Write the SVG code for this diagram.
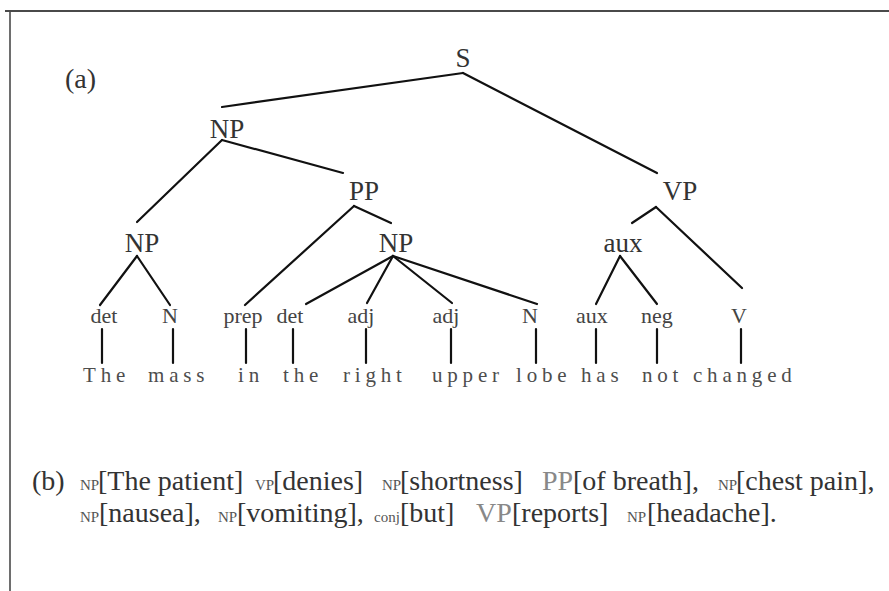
<svg xmlns="http://www.w3.org/2000/svg" width="889" height="591" viewBox="0 0 889 591">
  <style>
    .frame { stroke: #4a4a4a; fill: none; }
    .edge { stroke: #111; stroke-width: 2.2; fill: none; stroke-linecap: round; }
    .phrase { font-family: "Liberation Serif", "Times New Roman", serif; font-size: 27px; fill: #333; text-anchor: middle; }
    .pos { font-family: "Liberation Serif", "Times New Roman", serif; font-size: 22px; fill: #444; text-anchor: middle; }
    .word { font-family: "Liberation Serif", "Times New Roman", serif; font-size: 21px; fill: #4d4d4d; letter-spacing: 4.8px; }
    .caption { font-family: "Liberation Serif", "Times New Roman", serif; font-size: 28px; fill: #333; }
    .tag { font-family: "Liberation Serif", "Times New Roman", serif; font-size: 15px; fill: #555; }
    .tagbig { font-family: "Liberation Serif", "Times New Roman", serif; font-size: 28px; fill: #888; }
  </style>

  <!-- frame -->
  <line class="frame" x1="5" y1="11" x2="889" y2="11" stroke-width="2.2"/>
  <line class="frame" x1="10" y1="11" x2="10" y2="591" stroke-width="1.6" stroke="#666"/>

  <text class="caption" x="65" y="88">(a)</text>

  <!-- connectors -->
  <g id="edges">
    <line class="edge" x1="463" y1="73" x2="222" y2="107"/>
    <line class="edge" x1="463" y1="73" x2="657" y2="173"/>
    <line class="edge" x1="222" y1="140" x2="137" y2="222"/>
    <line class="edge" x1="222" y1="140" x2="343" y2="173"/>
    <line class="edge" x1="354" y1="206" x2="245" y2="305"/>
    <line class="edge" x1="354" y1="206" x2="391" y2="223"/>
    <line class="edge" x1="137" y1="256" x2="100" y2="305"/>
    <line class="edge" x1="137" y1="256" x2="170" y2="305"/>
    <line class="edge" x1="393" y1="256" x2="306" y2="304"/>
    <line class="edge" x1="393" y1="256" x2="367" y2="303"/>
    <line class="edge" x1="393" y1="256" x2="452" y2="303"/>
    <line class="edge" x1="393" y1="256" x2="537" y2="304"/>
    <line class="edge" x1="656" y1="207" x2="632" y2="223"/>
    <line class="edge" x1="656" y1="207" x2="742" y2="288"/>
    <line class="edge" x1="620" y1="256" x2="596" y2="304"/>
    <line class="edge" x1="620" y1="256" x2="657" y2="304"/>
    <!-- part-of-speech to word stems -->
    <line class="edge" x1="102" y1="329" x2="102" y2="363"/>
    <line class="edge" x1="173" y1="329" x2="173" y2="363"/>
    <line class="edge" x1="246" y1="329" x2="246" y2="363"/>
    <line class="edge" x1="293" y1="329" x2="293" y2="363"/>
    <line class="edge" x1="366" y1="329" x2="366" y2="363"/>
    <line class="edge" x1="451" y1="329" x2="451" y2="363"/>
    <line class="edge" x1="536" y1="329" x2="536" y2="363"/>
    <line class="edge" x1="596" y1="329" x2="596" y2="363"/>
    <line class="edge" x1="657" y1="329" x2="657" y2="363"/>
    <line class="edge" x1="741" y1="329" x2="741" y2="363"/>
  </g>

  <!-- phrase nodes -->
  <g id="node-S"><text class="phrase" x="463" y="67">S</text></g>
  <g id="node-NP1"><text class="phrase" x="227" y="138">NP</text></g>
  <g id="node-VP"><text class="phrase" x="680" y="200">VP</text></g>
  <g id="node-PP"><text class="phrase" x="364" y="200">PP</text></g>
  <g id="node-NP2"><text class="phrase" x="142" y="252">NP</text></g>
  <g id="node-NP3"><text class="phrase" x="396" y="252">NP</text></g>
  <g id="node-auxP"><text class="phrase" x="623" y="252">aux</text></g>

  <!-- part-of-speech nodes -->
  <g id="node-det1"><text class="pos" x="104" y="323">det</text></g>
  <g id="node-N1"><text class="pos" x="170" y="323">N</text></g>
  <g id="node-prep"><text class="pos" x="243" y="323">prep</text></g>
  <g id="node-det2"><text class="pos" x="290" y="323">det</text></g>
  <g id="node-adj1"><text class="pos" x="361" y="323">adj</text></g>
  <g id="node-adj2"><text class="pos" x="446" y="323">adj</text></g>
  <g id="node-N2"><text class="pos" x="530" y="323">N</text></g>
  <g id="node-aux"><text class="pos" x="592" y="323">aux</text></g>
  <g id="node-neg"><text class="pos" x="657" y="323">neg</text></g>
  <g id="node-V"><text class="pos" x="739" y="323">V</text></g>

  <!-- words -->
  <g id="words">
    <text class="word" x="83" y="382">The</text>
    <text class="word" x="148" y="382">mass</text>
    <text class="word" x="238" y="382">in</text>
    <text class="word" x="283" y="382">the</text>
    <text class="word" x="343" y="382">right</text>
    <text class="word" x="432" y="382">upper</text>
    <text class="word" x="516" y="382">lobe</text>
    <text class="word" x="581" y="382">has</text>
    <text class="word" x="642" y="382">not</text>
    <text class="word" x="693" y="382">changed</text>
  </g>

  <!-- (b) bracketed chunking -->
  <g id="chunks">
    <text class="caption" x="32" y="490">(b)</text>

    <text class="tag" x="80" y="490">NP</text>
    <text class="caption" x="98" y="490">[The patient]</text>
    <text class="tag" x="255" y="490">VP</text>
    <text class="caption" x="273" y="490">[denies]</text>
    <text class="tag" x="382" y="490">NP</text>
    <text class="caption" x="400" y="490">[shortness]</text>
    <text class="tagbig" x="542" y="490">PP</text>
    <text class="caption" x="573" y="490">[of breath],</text>
    <text class="tag" x="718" y="490">NP</text>
    <text class="caption" x="736" y="490">[chest pain],</text>

    <text class="tag" x="80" y="522">NP</text>
    <text class="caption" x="99" y="522">[nausea],</text>
    <text class="tag" x="218" y="522">NP</text>
    <text class="caption" x="237" y="522">[vomiting],</text>
    <text class="tag" x="374" y="522">conj</text>
    <text class="caption" x="400" y="522">[but]</text>
    <text class="tagbig" x="476" y="522">VP</text>
    <text class="caption" x="512" y="522">[reports]</text>
    <text class="tag" x="627" y="522">NP</text>
    <text class="caption" x="647" y="522">[headache].</text>
  </g>
</svg>
